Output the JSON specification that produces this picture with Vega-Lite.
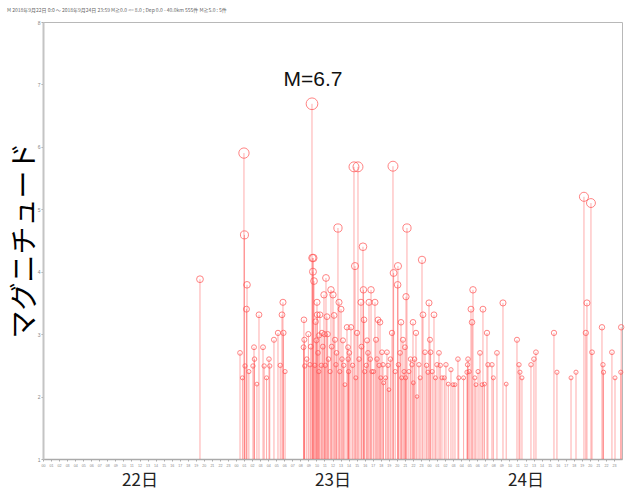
{
  "$schema": "https://vega.github.io/schema/vega-lite/v6.json",
  "width": 579,
  "height": 437,
  "autosize": {"type": "none"},
  "padding": {"left": 43, "top": 22, "right": 3, "bottom": 30},
  "background": "white",
  "title": {"text": "M      2018年9月22日 0:0 ～ 2018年9月24日 23:59   M≧0.0 <= 8.0  ;  Dep 0.0 - 40.0km   555件  M≧5.0 : 5件", "fontSize": 5, "color": "#666", "anchor": "start", "offset": 7, "dx": -4, "font": "Noto Sans CJK JP", "fontWeight": "normal"},
  "config": {"view": {"stroke": "#b8b8b8"}, "axis": {"grid": false}},
  "datasets": {
    "quakes": [
      {"t": 19.52, "m": 3.88},
      {"t": 24.50, "m": 2.70}, {"t": 24.80, "m": 2.30}, {"t": 24.99, "m": 5.90}, {"t": 25.05, "m": 4.59}, {"t": 25.37, "m": 3.79}, {"t": 25.30, "m": 3.40}, {"t": 25.12, "m": 2.49}, {"t": 25.60, "m": 2.40},
      {"t": 26.11, "m": 2.49}, {"t": 26.24, "m": 2.79}, {"t": 26.30, "m": 2.60}, {"t": 26.60, "m": 2.20}, {"t": 26.86, "m": 3.31}, {"t": 27.36, "m": 2.79}, {"t": 27.50, "m": 2.49}, {"t": 27.80, "m": 2.30},
      {"t": 28.10, "m": 2.60}, {"t": 28.20, "m": 2.49}, {"t": 28.72, "m": 2.91}, {"t": 29.22, "m": 3.02}, {"t": 29.50, "m": 2.50}, {"t": 29.72, "m": 3.31}, {"t": 29.84, "m": 3.51}, {"t": 29.90, "m": 3.02}, {"t": 30.10, "m": 2.40},
      {"t": 32.45, "m": 3.23}, {"t": 32.50, "m": 2.91}, {"t": 32.40, "m": 2.79}, {"t": 32.55, "m": 2.49}, {"t": 32.80, "m": 2.60}, {"t": 33.00, "m": 3.00}, {"t": 33.20, "m": 2.51}, {"t": 33.30, "m": 2.80},
      {"t": 33.45, "m": 6.69}, {"t": 33.50, "m": 4.22}, {"t": 33.62, "m": 4.22}, {"t": 33.57, "m": 4.00}, {"t": 33.70, "m": 3.85}, {"t": 33.80, "m": 2.50}, {"t": 33.90, "m": 3.20},
      {"t": 34.00, "m": 2.90}, {"t": 34.07, "m": 3.51}, {"t": 34.10, "m": 3.31}, {"t": 34.20, "m": 2.70}, {"t": 34.30, "m": 2.40}, {"t": 34.32, "m": 2.98}, {"t": 34.44, "m": 3.31}, {"t": 34.60, "m": 2.50}, {"t": 34.69, "m": 3.02}, {"t": 34.80, "m": 2.80},
      {"t": 34.94, "m": 3.63}, {"t": 35.00, "m": 3.00}, {"t": 35.10, "m": 2.50}, {"t": 35.19, "m": 3.90}, {"t": 35.31, "m": 3.28}, {"t": 35.40, "m": 3.00}, {"t": 35.50, "m": 2.60}, {"t": 35.70, "m": 2.40}, {"t": 35.81, "m": 3.71}, {"t": 35.90, "m": 2.80},
      {"t": 36.06, "m": 3.63}, {"t": 36.20, "m": 3.30}, {"t": 36.31, "m": 2.91}, {"t": 36.43, "m": 2.51}, {"t": 36.50, "m": 2.70}, {"t": 36.68, "m": 4.70}, {"t": 36.81, "m": 3.51}, {"t": 36.90, "m": 2.40},
      {"t": 37.06, "m": 3.40}, {"t": 37.18, "m": 2.60}, {"t": 37.30, "m": 2.90}, {"t": 37.40, "m": 2.50}, {"t": 37.55, "m": 2.19}, {"t": 37.80, "m": 3.11}, {"t": 37.93, "m": 2.79}, {"t": 37.95, "m": 2.60}, {"t": 38.00, "m": 2.40}, {"t": 38.10, "m": 2.70},
      {"t": 38.30, "m": 3.11}, {"t": 38.50, "m": 2.50}, {"t": 38.67, "m": 5.68}, {"t": 38.80, "m": 4.09}, {"t": 38.90, "m": 2.30}, {"t": 39.05, "m": 3.02}, {"t": 39.17, "m": 5.68}, {"t": 39.30, "m": 2.60},
      {"t": 39.54, "m": 3.51}, {"t": 39.60, "m": 2.80}, {"t": 39.79, "m": 4.40}, {"t": 39.85, "m": 3.71}, {"t": 39.92, "m": 3.23}, {"t": 40.00, "m": 2.40}, {"t": 40.20, "m": 2.50}, {"t": 40.30, "m": 2.90},
      {"t": 40.41, "m": 2.70}, {"t": 40.54, "m": 3.51}, {"t": 40.70, "m": 2.60}, {"t": 40.79, "m": 3.71}, {"t": 40.90, "m": 2.40}, {"t": 41.10, "m": 2.40},
      {"t": 41.28, "m": 3.51}, {"t": 41.41, "m": 2.91}, {"t": 41.53, "m": 2.60}, {"t": 41.66, "m": 3.23}, {"t": 41.80, "m": 2.50}, {"t": 41.91, "m": 3.19}, {"t": 42.00, "m": 2.30},
      {"t": 42.15, "m": 2.71}, {"t": 42.28, "m": 2.51}, {"t": 42.35, "m": 2.22}, {"t": 42.60, "m": 2.30}, {"t": 42.77, "m": 2.71}, {"t": 42.90, "m": 2.50}, {"t": 43.02, "m": 2.11}, {"t": 43.20, "m": 2.60},
      {"t": 43.40, "m": 3.02}, {"t": 43.52, "m": 5.69}, {"t": 43.60, "m": 3.98}, {"t": 43.80, "m": 2.40}, {"t": 44.14, "m": 4.09}, {"t": 44.10, "m": 3.79}, {"t": 44.20, "m": 2.51}, {"t": 44.40, "m": 2.70},
      {"t": 44.52, "m": 3.19}, {"t": 44.60, "m": 2.30}, {"t": 44.76, "m": 2.91}, {"t": 44.90, "m": 2.40}, {"t": 45.01, "m": 2.79}, {"t": 45.26, "m": 4.70}, {"t": 45.14, "m": 3.60}, {"t": 45.10, "m": 2.30}, {"t": 45.50, "m": 2.40}, {"t": 45.70, "m": 2.60},
      {"t": 45.88, "m": 2.51}, {"t": 46.01, "m": 3.19}, {"t": 46.05, "m": 2.22}, {"t": 46.20, "m": 2.60}, {"t": 46.38, "m": 3.02}, {"t": 46.51, "m": 2.00}, {"t": 46.75, "m": 2.51}, {"t": 46.90, "m": 2.30},
      {"t": 47.13, "m": 4.19}, {"t": 47.25, "m": 3.31}, {"t": 47.50, "m": 2.71}, {"t": 47.70, "m": 2.50}, {"t": 47.87, "m": 2.39},
      {"t": 48.00, "m": 3.50}, {"t": 48.12, "m": 2.91}, {"t": 48.20, "m": 2.71}, {"t": 48.40, "m": 2.40}, {"t": 48.62, "m": 3.31}, {"t": 48.80, "m": 2.30}, {"t": 48.99, "m": 2.51}, {"t": 49.24, "m": 2.70}, {"t": 49.40, "m": 2.50}, {"t": 49.61, "m": 2.30}, {"t": 49.90, "m": 2.30},
      {"t": 50.11, "m": 2.51}, {"t": 50.40, "m": 2.20}, {"t": 50.73, "m": 2.43}, {"t": 50.98, "m": 2.19}, {"t": 51.23, "m": 2.19}, {"t": 51.60, "m": 2.60}, {"t": 51.70, "m": 2.30},
      {"t": 52.30, "m": 2.30}, {"t": 52.72, "m": 2.39}, {"t": 52.85, "m": 2.60}, {"t": 52.80, "m": 2.51}, {"t": 53.00, "m": 2.40}, {"t": 53.22, "m": 3.40}, {"t": 53.35, "m": 3.19}, {"t": 53.47, "m": 3.71}, {"t": 53.70, "m": 2.30},
      {"t": 53.84, "m": 2.19}, {"t": 54.10, "m": 2.40}, {"t": 54.34, "m": 2.70}, {"t": 54.59, "m": 2.19}, {"t": 54.71, "m": 3.40}, {"t": 54.90, "m": 2.20}, {"t": 55.21, "m": 3.02}, {"t": 55.33, "m": 2.51},
      {"t": 55.83, "m": 2.51}, {"t": 56.00, "m": 2.30}, {"t": 56.45, "m": 2.70}, {"t": 57.20, "m": 3.50}, {"t": 57.60, "m": 2.20},
      {"t": 58.94, "m": 2.91}, {"t": 59.19, "m": 2.51}, {"t": 59.31, "m": 2.39}, {"t": 59.56, "m": 2.30},
      {"t": 60.68, "m": 2.51}, {"t": 61.05, "m": 2.60}, {"t": 61.30, "m": 2.71},
      {"t": 63.54, "m": 3.02}, {"t": 63.91, "m": 2.39}, {"t": 65.66, "m": 2.30}, {"t": 66.28, "m": 2.39},
      {"t": 67.27, "m": 5.20}, {"t": 67.64, "m": 3.50}, {"t": 67.50, "m": 3.02}, {"t": 68.14, "m": 5.10}, {"t": 68.27, "m": 2.71},
      {"t": 69.51, "m": 3.11}, {"t": 69.63, "m": 2.51}, {"t": 69.70, "m": 2.39}, {"t": 70.75, "m": 2.71}, {"t": 71.13, "m": 2.30},
      {"t": 71.90, "m": 3.11}, {"t": 71.85, "m": 2.39}
    ],
    "note": [{"t": 33.57, "m": 7.07, "label": "M=6.7"}]
  },
  "layer": [
    {
      "data": {"name": "quakes"},
      "mark": {"type": "rule", "color": "#ff3030", "opacity": 0.4, "strokeWidth": 1},
      "encoding": {
        "x": {
          "field": "t", "type": "quantitative",
          "scale": {"domain": [0, 72], "nice": false, "zero": false},
          "axis": {
            "title": null,
            "values": [0,1,2,3,4,5,6,7,8,9,10,11,12,13,14,15,16,17,18,19,20,21,22,23,24,25,26,27,28,29,30,31,32,33,34,35,36,37,38,39,40,41,42,43,44,45,46,47,48,49,50,51,52,53,54,55,56,57,58,59,60,61,62,63,64,65,66,67,68,69,70,71],
            "labelExpr": "(datum.value % 24 < 10 ? '0' : '') + (datum.value % 24)",
            "labelFontSize": 3.6, "labelColor": "#888", "labelOverlap": false, "labelFlush": false,
            "labelPadding": 2, "tickSize": 2, "tickColor": "#aaa", "domainColor": "#aaa", "domainWidth": 1.5
          }
        },
        "y": {
          "field": "m", "type": "quantitative",
          "scale": {"domain": [1, 8], "nice": false, "zero": false},
          "axis": {
            "values": [1,2,3,4,5,6,7,8], "format": "d",
            "labelFontSize": 5, "labelColor": "#888", "labelPadding": 1, "tickSize": 2, "tickColor": "#aaa",
            "domainColor": "#c4c4c4", "domainWidth": 2,
            "title": "マグニチュード", "titleFontSize": 28, "titleFont": "Noto Sans CJK JP", "titleFontWeight": "normal",
            "titleColor": "#000", "titleX": -18, "titleY": 218, "titleAngle": -90, "titleAlign": "center", "titleBaseline": "middle"
          }
        },
        "y2": {"datum": 1}
      }
    },
    {
      "data": {"name": "quakes"},
      "mark": {"type": "point", "shape": "circle", "filled": false, "color": "#ff5050", "opacity": 0.7, "strokeWidth": 1},
      "encoding": {
        "x": {
          "field": "t", "type": "quantitative",
          "axis": {
            "orient": "bottom", "title": null, "values": [12, 36, 60],
            "labelExpr": "['22日','23日','24日'][floor(datum.value / 24)]",
            "labelFontSize": 17, "labelFont": "Noto Sans CJK JP", "labelColor": "#222",
            "ticks": false, "domain": false, "labelPadding": 13, "labelFlush": false
          }
        },
        "y": {"field": "m", "type": "quantitative"},
        "size": {"field": "m", "type": "quantitative", "scale": {"type": "pow", "exponent": 2, "domain": [0, 7], "range": [0, 150]}, "legend": null}
      }
    },
    {
      "data": {"name": "note"},
      "mark": {"type": "text", "fontSize": 21, "font": "Liberation Sans", "color": "#111", "baseline": "middle", "align": "center"},
      "encoding": {
        "x": {"field": "t", "type": "quantitative", "axis": null},
        "y": {"field": "m", "type": "quantitative"},
        "text": {"field": "label"}
      }
    }
  ],
  "resolve": {"axis": {"x": "independent"}}
}
